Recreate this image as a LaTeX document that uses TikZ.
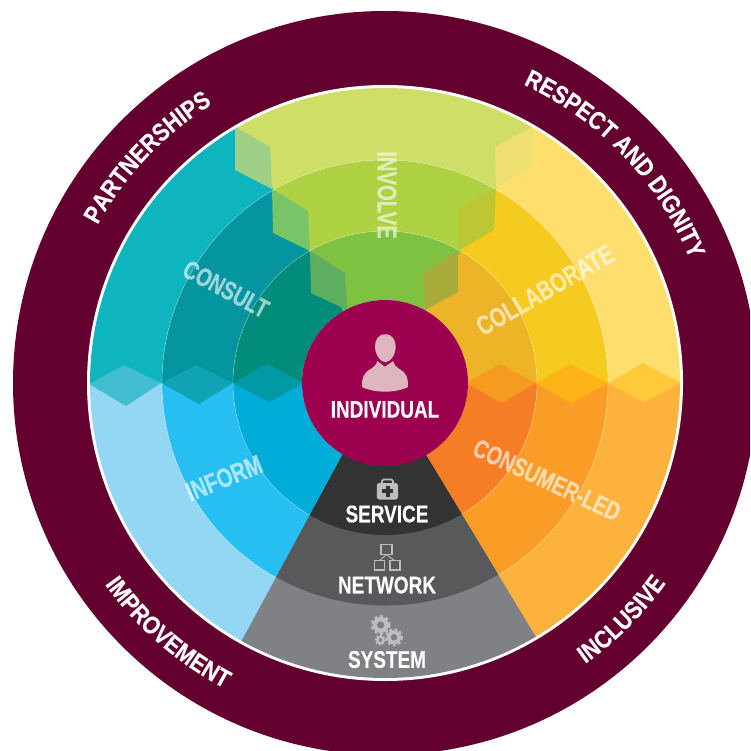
\documentclass[tikz,border=0pt]{standalone}
\usepackage{fontspec}
\usetikzlibrary{decorations.text}
\newfontfamily\condA[FakeStretch=0.79,FakeBold=0.3]{Liberation Sans Bold}
\newfontfamily\condB[FakeStretch=0.75,FakeBold=0.3]{Liberation Sans Bold}
\newfontfamily\condC[FakeStretch=0.86,FakeBold=0.3]{Liberation Sans Bold}
\definecolor{ringmaroon}{HTML}{63002F}
\definecolor{hubred}{HTML}{9C004F}
\definecolor{involveO}{HTML}{CFDE66}\definecolor{involveM}{HTML}{AED241}\definecolor{involveI}{HTML}{7FC242}
\definecolor{consultO}{HTML}{0FB5BE}\definecolor{consultM}{HTML}{04959F}\definecolor{consultI}{HTML}{028C7B}
\definecolor{collabO}{HTML}{FEDF6E}\definecolor{collabM}{HTML}{F6CB1F}\definecolor{collabI}{HTML}{EEB428}
\definecolor{informO}{HTML}{93D7F5}\definecolor{informM}{HTML}{27BFF1}\definecolor{informI}{HTML}{00ACD8}
\definecolor{consumerO}{HTML}{FDB23D}\definecolor{consumerM}{HTML}{F99D26}\definecolor{consumerI}{HTML}{F57D25}
\definecolor{greyO}{HTML}{808184}\definecolor{greyM}{HTML}{58595B}\definecolor{greyI}{HTML}{333333}
\definecolor{iconsoft}{HTML}{DDB6C0}\definecolor{icongrey}{HTML}{BCBDBF}
\definecolor{chevLO}{HTML}{A0D088}\definecolor{chevLM}{HTML}{78C466}\definecolor{chevLI}{HTML}{5DAE5F}
\definecolor{chevRO}{HTML}{EDE070}\definecolor{chevRM}{HTML}{BDC734}\definecolor{chevRI}{HTML}{A9AC3A}
\definecolor{diaLO}{HTML}{42BDD0}\definecolor{diaLM}{HTML}{10A3B3}\definecolor{diaLI}{HTML}{0099A5}
\definecolor{diaRI}{HTML}{F59B20}\definecolor{diaRM}{HTML}{FEB316}\definecolor{diaRO}{HTML}{FFC93C}
\newcommand{\wedgefill}[5]{\fill[#5] (#1:#3) arc[start angle=#1,end angle=#2,radius=#3] -- (#2:#4) arc[start angle=#2,end angle=#1,radius=#4] -- cycle;}
\newcommand{\gearicon}[5]{% x y r tooth-dash bg
  \draw[icongrey,line width=#3*0.36pt,dash pattern=on #4pt off #4pt] (#1,#2) circle[radius=#3*0.82];
  \fill[icongrey] (#1,#2) circle[radius=#3*0.8];
  \fill[#5] (#1,#2) circle[radius=#3*0.36];}
\tikzset{
  ringtext/.style={white,font=\condA\fontsize{#1}{#1}\selectfont,inner sep=0pt},
  softtext/.style={text=white,text opacity=.6,font=\condB\fontsize{#1}{#1}\selectfont,inner sep=0pt},
  arclabel/.style={decorate,decoration={text along path,text align=center,text color=white,text={|\condC\fontsize{25}{25}\selectfont|#1}}},
  seam/.style={white,opacity=.3,line width=.6pt}
}
\begin{document}
\begin{tikzpicture}[x=1pt,y=-1pt]
\clip (0,0) rectangle (750,751);
\fill[white] (0,0) rectangle (750,751);
\fill[ringmaroon] (385,383) circle[radius=372];
\fill[white] (385,383) circle[radius=298];
\begin{scope}
\clip (385,383) circle[radius=295];
\begin{scope}[shift={(385,383)},x=1pt,y=1pt]
 \wedgefill{60}{120}{83}{152}{involveI}\wedgefill{60}{120}{152}{223}{involveM}\wedgefill{60}{120}{223}{300}{involveO}
 \wedgefill{120}{180}{83}{152}{consultI}\wedgefill{120}{180}{152}{223}{consultM}\wedgefill{120}{180}{223}{300}{consultO}
 \wedgefill{0}{60}{83}{152}{collabI}\wedgefill{0}{60}{152}{223}{collabM}\wedgefill{0}{60}{223}{300}{collabO}
 \wedgefill{180}{250}{83}{152}{informI}\wedgefill{180}{250}{152}{223}{informM}\wedgefill{180}{250}{223}{300}{informO}
 \wedgefill{290}{360}{83}{152}{consumerI}\wedgefill{290}{360}{152}{223}{consumerM}\wedgefill{290}{360}{223}{300}{consumerO}
\end{scope}
% involve chevrons
\fill[chevLO] (235,127) -- (270,147) -- (272,189) -- (235,170) -- cycle;
\fill[chevLM] (272,189) -- (308,211) -- (310,251) -- (273,233) -- cycle;
\fill[chevLI] (310,251) -- (345,273) -- (347,310) -- (311,293) -- cycle;
\fill[chevRO] (532,127) -- (495,147) -- (496,188) -- (532,167) -- cycle;
\fill[chevRM] (496,188) -- (458,209) -- (458,251) -- (494,230) -- cycle;
\fill[chevRI] (458,251) -- (423,273) -- (425,310) -- (458,292) -- cycle;
% diamonds
\fill[diaLO] (89,384) -- (124,365) -- (161,383) -- (126,406) -- cycle;
\fill[diaLM] (161,383) -- (197,365) -- (233,383) -- (199,404) -- cycle;
\fill[diaLI] (233,383) -- (267,364) -- (304,383) -- (269,402) -- cycle;
\fill[diaRI] (466,383) -- (500,364) -- (536,383) -- (502,403) -- cycle;
\fill[diaRM] (536,383) -- (570,364) -- (608,383) -- (571,403) -- cycle;
\fill[diaRO] (608,383) -- (643,363) -- (681,383) -- (643,402) -- cycle;
\draw[seam] (385,383) circle[radius=152];
\draw[seam] (385,383) circle[radius=223];
% grey wedge
\begin{scope}
 \clip (385,383) -- (343,454) -- (209.5,700) -- (574,700) -- (426,455) -- cycle;
 \fill[greyO] (385,383) circle[radius=300];
 \fill[greyM] (385,383) circle[radius=222.5];
 \fill[greyI] (385,383) circle[radius=152];
\end{scope}
\end{scope}
\fill[hubred] (385,383) circle[radius=83];
% person icon
\fill[iconsoft] (385.3,334.3) .. controls (378,334.3) and (375,340) .. (375,346.7) .. controls (375,354) and (380,362) .. (385.3,362.3) .. controls (391,362) and (395.7,354) .. (395.7,346.7) .. controls (395.7,340) and (392.5,334.3) .. cycle;
\fill[iconsoft] (362.3,387.3) .. controls (361.5,378) and (363,373) .. (371.7,368.3) .. controls (374,367) and (376,365) .. (377.3,361) -- (384.7,366.7) -- (393.3,361) .. controls (394.5,365) and (396,367) .. (398.3,368.3) .. controls (407,373) and (408.5,378) .. (407.7,387.3) .. controls (400,390.5) and (392,391.7) .. (385,391.7) .. controls (378,391.7) and (370,390.5) .. (362.3,387.3) -- cycle;
% labels
\node[ringtext=24] (individual) at (385,409.5) {INDIVIDUAL};
\node[ringtext=24] (service) at (387,514) {SERVICE};
\node[ringtext=24] (network) at (387,585) {NETWORK};
\node[ringtext=24] (system) at (387,659.5) {SYSTEM};
% briefcase
\draw[icongrey,line width=1.6pt,rounded corners=1.5pt] (382,484) -- (382,479.5) -- (393,479.5) -- (393,484);
\fill[icongrey,rounded corners=2.5pt] (376.8,483) rectangle (398,499.5);
\fill[greyI] (385.5,486) rectangle (389.5,496.5);
\fill[greyI] (382.2,489.2) rectangle (392.8,493.2);
% network icon
\begin{scope}[icongrey,line width=1.3pt]
\draw (381,544.5) rectangle (392,554.5);
\draw (374.5,560.5) rectangle (384.5,570);
\draw (390,560.5) rectangle (400,570);
\draw[line width=.9pt] (386.5,554.5) -- (379.5,560.5);
\draw[line width=.9pt] (386.5,554.5) -- (394.5,560.5);
\end{scope}
% gears
\gearicon{380.7}{625}{10}{2.7}{greyO}
\gearicon{394}{637.3}{9}{2.5}{greyO}
\gearicon{380.3}{640}{5.5}{1.7}{greyO}
% soft labels
\node[softtext=27,rotate=-90] (involve) at (387,195) {INVOLVE};
\node[softtext=26,rotate=-28] (consult) at (226,289) {CONSULT};
\node[softtext=27,rotate=22] (inform) at (224,478) {INFORM};
\node[softtext=27,rotate=30] (collab) at (545,290) {COLLABORATE};
\node[softtext=26,rotate=-25] (consumer) at (547,480) {CONSUMER-LED};
% arc labels
\begin{scope}[shift={(385,383)},x=1pt,y=1pt]
 \path[arclabel=PARTNERSHIPS] (176.5:328) arc[start angle=176.5,end angle=96.5,radius=328];
 \path[arclabel={RESPECT AND DIGNITY}] (93.6:329) arc[start angle=93.6,end angle=-6.4,radius=329];
 \path[arclabel=IMPROVEMENT] (189:345) arc[start angle=189,end angle=269,radius=345];
 \path[arclabel=INCLUSIVE] (275:345) arc[start angle=275,end angle=355,radius=345];
\end{scope}
\end{tikzpicture}
\end{document}
